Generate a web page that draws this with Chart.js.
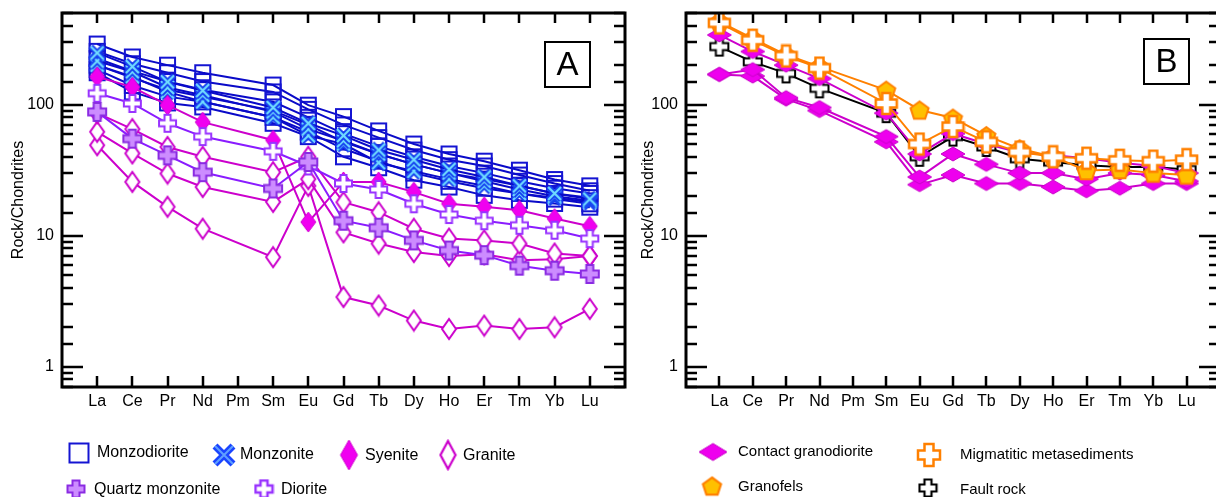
<!DOCTYPE html>
<html>
<head>
<meta charset="utf-8">
<script src="https://cdn.jsdelivr.net/npm/chart.js@4.4.0/dist/chart.umd.min.js"></script>
<style>
html, body { margin: 0; padding: 0; background: #fff; overflow: hidden; width: 1216px; height: 497px; }
#chartA { position: absolute; left: 0; top: 0; }
#chartB { position: absolute; left: 630px; top: 0; }
</style>
</head>
<body>
<canvas id="chartA" width="630" height="497"></canvas>
<canvas id="chartB" width="600" height="497"></canvas>
<script>
const elements = ["La", "Ce", "Pr", "Nd", "Pm", "Sm", "Eu", "Gd", "Tb", "Dy", "Ho", "Er", "Tm", "Yb", "Lu"];
const yLabels = [1, 10, 100];

// panel A (Pm has no data -> null)
const monzodiorite = [
    [290, 231, 200, 175, null, 141, 99, 81, 63, 50, 42, 37, 31.6, 26.8, 24],
    [255, 205, 175, 150, null, 125, 92, 70, 56, 45, 38, 34, 29, 25, 22],
    [225, 180, 150, 130, null, 105, 80, 60, 48, 40, 34, 30, 26, 23, 21],
    [200, 160, 130, 115, null, 90, 70, 52, 42, 35, 30, 27, 24, 21, 19.5],
    [185, 140, 115, 105, null, 80, 62, 46, 37, 30, 26, 23, 21, 19, 17.5],
    [175, 125, 103, 96, null, 72, 57, 40, 33, 26.5, 23.5, 20.3, 18.6, 17.6, 16.5]
];
const monzonite = [
    [248, 195, 149, 128, null, 95, 72, 58, 45, 38, 32, 28, 24, 21, 19],
    [215, 178, 135, 118, null, 88, 65, 53, 42, 35, 30, 26, 22.5, 20, 18.5],
    [200, 163, 125, 105, null, 80, 58, 50, 36, 31, 27, 24, 21, 19.5, 18]
];
const syenite = [163, 136, 99, 73.5, null, 53.5, 12.7, 25.7, 25.7, 21.5, 17.5, 16.6, 15.6, 13.5, 11.8];
const granite = [
    [86, 65, 47.5, 40, null, 30.5, 40, 18, 15.1, 11.3, 9.5, 9.2, 8.7, 7.3, 7.0],
    [62, 42.4, 29.8, 23.5, null, 18.1, 27, 10.6, 8.7, 7.5, 7.0, 7.2, 6.5, 6.6, 7.0],
    [49, 25.7, 16.6, 11.3, null, 6.85, 24, 3.4, 2.93, 2.25, 1.94, 2.06, 1.94, 2.0, 2.76]
];
const quartzMonzonite = [88, 55, 41, 30.5, null, 22.9, 36.5, 13, 11.5, 9.2, 7.7, 7.1, 5.9, 5.4, 5.1];
const diorite = [122, 102, 72, 57, null, 44, 34, 25, 22.5, 17.5, 14.5, 13, 12, 11, 9.5];

// panel B
const contactGranodiorite = [
    [340, 254, 200, 158, null, 86, 42, 60, 50, 43, 41, 39, 36, 34, 30],
    [170, 185, 113, 95, null, 57, 28, 42, 35, 30, 30, 27, 30, 29, 26],
    [170, 165, 110, 90, null, 52, 24.5, 29, 25, 25, 23.5, 22, 23, 25, 25]
];
const granofels = [430, 320, 240, 195, null, 129, 91, 79, 58, 46, 40, 31.4, 32, 30, 29];
const migmatitic = [420, 310, 235, 190, null, 102, 50, 68, 52, 43.4, 40, 39, 37.6, 37, 38];
const faultRock = [277, 212, 173, 133, null, 86, 40, 57, 47.5, 38.6, 36.4, 34.4, 33.4, 33.4, 32];

Chart.defaults.font.family = "'Liberation Sans', Arial, sans-serif";
Chart.defaults.font.size = 16;
Chart.defaults.color = "#000";

function makeMarker(w, h, draw) {
    const c = document.createElement("canvas");
    c.width = w;
    c.height = h;
    draw(c.getContext("2d"), w / 2, h / 2);
    return c;
}

function square(s, stroke) {
    return makeMarker(s + 4, s + 4, (g, cx, cy) => {
        g.strokeStyle = stroke;
        g.lineWidth = 2;
        g.strokeRect(cx - s / 2, cy - s / 2, s, s);
    });
}

function diamond(w, h, fill, stroke, lw) {
    return makeMarker(w + 4, h + 4, (g, cx, cy) => {
        g.beginPath();
        g.moveTo(cx, cy - h / 2);
        g.lineTo(cx + w / 2, cy);
        g.lineTo(cx, cy + h / 2);
        g.lineTo(cx - w / 2, cy);
        g.closePath();
        g.fillStyle = fill;
        g.fill();
        g.strokeStyle = stroke;
        g.lineWidth = lw;
        g.stroke();
    });
}

function plus(s, arm, fill, stroke, lw) {
    return makeMarker(s + 4, s + 4, (g, cx, cy) => {
        const h = s / 2, a = arm / 2;
        const pts = [[-a, -h], [a, -h], [a, -a], [h, -a], [h, a], [a, a], [a, h], [-a, h], [-a, a], [-h, a], [-h, -a], [-a, -a]];
        g.beginPath();
        pts.forEach((p, i) => i ? g.lineTo(cx + p[0], cy + p[1]) : g.moveTo(cx + p[0], cy + p[1]));
        g.closePath();
        g.fillStyle = fill;
        g.fill();
        g.strokeStyle = stroke;
        g.lineWidth = lw;
        g.lineJoin = "miter";
        g.stroke();
    });
}

function xMark(s, outer, inner, wo, wi) {
    return makeMarker(s + 6, s + 6, (g, cx, cy) => {
        const h = s / 2 - 2;
        g.lineCap = "butt";
        [[outer, wo], [inner, wi]].forEach(([col, w]) => {
            g.strokeStyle = col;
            g.lineWidth = w;
            g.beginPath();
            g.moveTo(cx - h, cy - h); g.lineTo(cx + h, cy + h);
            g.moveTo(cx + h, cy - h); g.lineTo(cx - h, cy + h);
            g.stroke();
        });
    });
}

function pentagon(s, fill, stroke, lw) {
    return makeMarker(s + 4, s + 4, (g, cx, cy) => {
        const r = s / 2;
        g.beginPath();
        for (let i = 0; i < 5; i++) {
            const ang = -Math.PI / 2 + i * 2 * Math.PI / 5;
            const px = cx + r * Math.cos(ang), py = cy + 1 + r * Math.sin(ang);
            i ? g.lineTo(px, py) : g.moveTo(px, py);
        }
        g.closePath();
        g.fillStyle = fill;
        g.fill();
        g.strokeStyle = stroke;
        g.lineWidth = lw;
        g.stroke();
    });
}

const BLUE = "#0a0ac8";
const MAGENTA = "#cc00cc";
const VIOLET = "#8a1cff";
const ORANGE = "#ff8000";

const mk = {
    square: square(15, "#1414d2"),
    x: xMark(17, "#1540f0", "#70dcff", 6, 2.2),
    syenite: diamond(15, 20, "#f000f0", "#d000d0", 1),
    granite: diamond(14, 20, "#fff", MAGENTA, 2),
    qm: plus(18, 7, "#cc8cff", "#8a2be2", 2),
    diorite: plus(17, 6, "#fff", "#9933ff", 2),
    contact: diamond(24, 14, "#ee00ee", "#c800c8", 1),
    granofels: pentagon(19, "#ffc000", ORANGE, 2),
    migm: plus(21, 8, "#fff", ORANGE, 2.5),
    fault: plus(18, 7, "#fff", "#000", 2)
};

const lg = {
    square: square(19, "#1414d2"),
    x: xMark(22, "#1a44ff", "#5fa0ff", 7, 2),
    syenite: diamond(17, 30, "#f000f0", "#d000d0", 1),
    granite: diamond(15, 28, "#fff", MAGENTA, 2.2),
    qm: plus(17, 7, "#cc8cff", "#8a2be2", 2),
    diorite: plus(17, 7, "#fff", "#9933ff", 2.5),
    contact: diamond(28, 17, "#ee00ee", "#c800c8", 1),
    granofels: pentagon(19, "#ffc000", ORANGE, 2.2),
    migm: plus(22, 9, "#fff", ORANGE, 2.5),
    fault: plus(17, 7, "#fff", "#000", 2.2)
};

function series(label, values, marker, color) {
    return {
        label: label,
        data: values.map((v, i) => ({ x: i + 1, y: v })).filter(p => p.y !== null),
        borderColor: color,
        borderWidth: 2,
        pointStyle: marker,
        pointRadius: 8,
        pointHoverRadius: 8,
        fill: false,
        tension: 0
    };
}

function isPow10(v) {
    const l = Math.log10(v);
    return Math.abs(l - Math.round(l)) < 1e-9;
}

const frameTicks = {
    id: "frameTicks",
    afterDatasetsDraw(chart, args, opts) {
        const { ctx, chartArea: a, scales: { x, y } } = chart;
        ctx.save();
        ctx.strokeStyle = "#000";
        ctx.lineWidth = 2.5;
        ctx.beginPath();
        y.ticks.forEach(t => {
            const py = Math.round(y.getPixelForValue(t.value));
            const len = isPow10(t.value) ? 21 : 11;
            ctx.moveTo(a.left, py); ctx.lineTo(a.left + len, py);
            ctx.moveTo(a.right, py); ctx.lineTo(a.right - len, py);
        });
        x.ticks.forEach(t => {
            if (t.value < 1 || t.value > elements.length) return;
            const px = Math.round(x.getPixelForValue(t.value));
            ctx.moveTo(px, a.bottom); ctx.lineTo(px, a.bottom - 11);
            ctx.moveTo(px, a.top); ctx.lineTo(px, a.top + 10);
        });
        ctx.stroke();
        ctx.lineWidth = 3;
        ctx.strokeRect(a.left, a.top, a.right - a.left, a.bottom - a.top);

        const b = opts.box;
        ctx.lineWidth = 2;
        ctx.strokeRect(b[0], b[1], b[2], b[3]);
        ctx.fillStyle = "#000";
        ctx.font = "33px 'Liberation Sans', Arial, sans-serif";
        ctx.textAlign = "center";
        ctx.textBaseline = "middle";
        ctx.fillText(opts.letter, b[0] + b[2] / 2, b[1] + b[3] / 2 + 1);
        ctx.restore();
    }
};

const boxLegend = {
    id: "boxLegend",
    afterDraw(chart, args, opts) {
        const ctx = chart.ctx;
        ctx.save();
        ctx.fillStyle = "#000";
        ctx.font = opts.font;
        ctx.textAlign = "left";
        ctx.textBaseline = "middle";
        opts.items.forEach(it => {
            const m = it.marker;
            ctx.drawImage(m, it.ix - m.width / 2, it.iy - m.height / 2);
            ctx.fillText(it.text, it.tx, it.ty);
        });
        ctx.restore();
    }
};

function makeOptions(yWidth, padRight, letter, box, legendItems, legendFont) {
    return {
        responsive: false,
        animation: false,
        events: [],
        layout: { autoPadding: false, padding: { top: 13, right: padRight, left: 0, bottom: 0 } },
        scales: {
            x: {
                type: "linear",
                min: 0,
                max: elements.length + 1,
                grid: { display: false, drawTicks: false },
                border: { display: false },
                ticks: {
                    stepSize: 1,
                    maxTicksLimit: 30,
                    autoSkip: false,
                    maxRotation: 0,
                    padding: 5,
                    callback: v => elements[v - 1] || ""
                },
                afterFit: s => { s.height = 110; s.paddingLeft = 0; s.paddingRight = 0; }
            },
            y: {
                type: "logarithmic",
                min: 0.7,
                max: 500,
                grid: { display: false, drawTicks: false },
                border: { display: false },
                ticks: {
                    autoSkip: false,
                    padding: 8,
                    callback: v => yLabels.some(l => Math.abs(l - v) < 1e-9) ? String(v) : ""
                },
                title: { display: true, text: "Rock/Chondrites", font: { size: 16 }, padding: { top: 9, bottom: 0 } },
                afterFit: s => { s.width = yWidth; s.paddingTop = 0; s.paddingBottom = 0; }
            }
        },
        plugins: {
            legend: { display: false },
            tooltip: { enabled: false },
            frameTicks: { letter: letter, box: box },
            boxLegend: { items: legendItems, font: legendFont }
        }
    };
}

const datasetsA = [];
datasetsA.push(series("Quartz monzonite", quartzMonzonite, mk.qm, VIOLET));
datasetsA.push(series("Diorite", diorite, mk.diorite, VIOLET));
datasetsA.push(series("Syenite", syenite, mk.syenite, MAGENTA));
granite.forEach(g => datasetsA.push(series("Granite", g, mk.granite, MAGENTA)));
monzonite.forEach(m => datasetsA.push(series("Monzonite", m, mk.x, BLUE)));
monzodiorite.forEach(m => datasetsA.push(series("Monzodiorite", m, mk.square, BLUE)));

const legendA = [
    { marker: lg.square, ix: 79, iy: 453, text: "Monzodiorite", tx: 97, ty: 453 },
    { marker: lg.x, ix: 224, iy: 455, text: "Monzonite", tx: 240, ty: 455 },
    { marker: lg.syenite, ix: 349, iy: 455, text: "Syenite", tx: 365, ty: 456 },
    { marker: lg.granite, ix: 448, iy: 455, text: "Granite", tx: 463, ty: 456 },
    { marker: lg.qm, ix: 76, iy: 489, text: "Quartz monzonite", tx: 94, ty: 490 },
    { marker: lg.diorite, ix: 264, iy: 489, text: "Diorite", tx: 281, ty: 490 }
];

new Chart(document.getElementById("chartA"), {
    type: "line",
    data: { datasets: datasetsA },
    options: makeOptions(62, 5, "A", [545, 42, 45, 45], legendA, "16px 'Liberation Sans', Arial, sans-serif"),
    plugins: [frameTicks, boxLegend]
});

const datasetsB = [];
datasetsB.push(series("Migmatitic metasediments", migmatitic, mk.migm, ORANGE));
datasetsB.push(series("Granofels", granofels, mk.granofels, ORANGE));
contactGranodiorite.forEach(c => datasetsB.push(series("Contact granodiorite", c, mk.contact, MAGENTA)));
datasetsB.push(series("Fault rock", faultRock, mk.fault, "#000"));

// canvas B starts at page x = 630
const legendB = [
    { marker: lg.contact, ix: 83, iy: 452, text: "Contact granodiorite", tx: 108, ty: 452 },
    { marker: lg.granofels, ix: 82, iy: 486, text: "Granofels", tx: 108, ty: 487 },
    { marker: lg.migm, ix: 299, iy: 455, text: "Migmatitic metasediments", tx: 330, ty: 455 },
    { marker: lg.fault, ix: 298, iy: 488, text: "Fault rock", tx: 330, ty: 490 }
];

new Chart(document.getElementById("chartB"), {
    type: "line",
    data: { datasets: datasetsB },
    options: makeOptions(56, 10, "B", [514, 39, 45, 45], legendB, "15px 'Liberation Sans', Arial, sans-serif"),
    plugins: [frameTicks, boxLegend]
});
</script>
</body>
</html>
